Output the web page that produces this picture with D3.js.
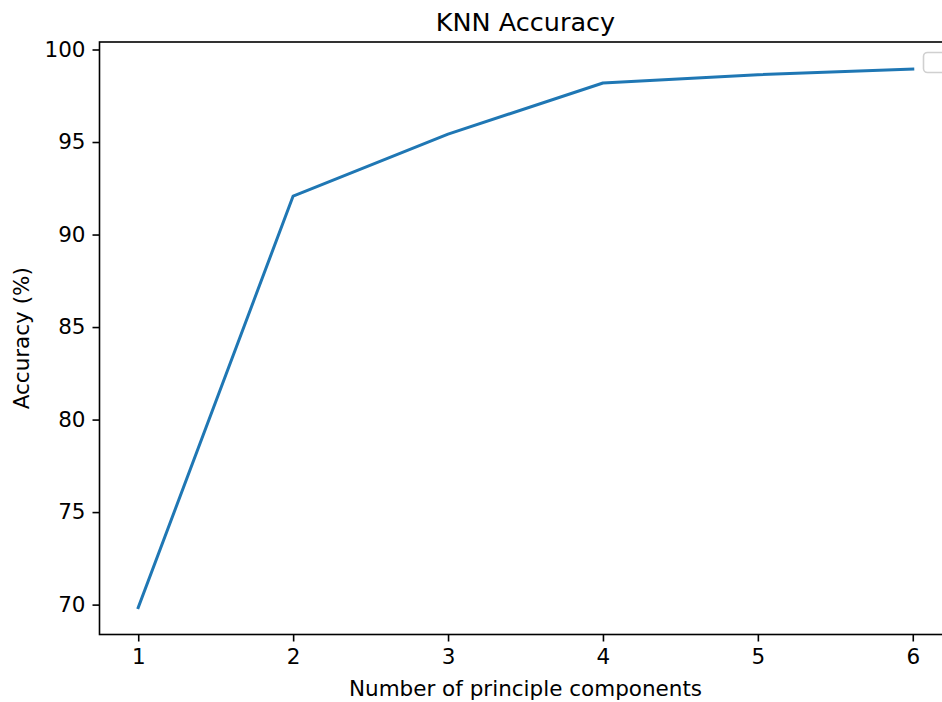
<!DOCTYPE html>
<html>
<head>
<meta charset="utf-8">
<script src="https://cdn.jsdelivr.net/npm/d3@7"></script>
<style>
  html, body { margin: 0; padding: 0; background: #fff; }
  svg { display: block; }
  text { font-family: "DejaVu Sans", sans-serif; fill: #000; }
</style>
</head>
<body>
<svg id="chart" width="942" height="702"></svg>
<script>
// Accuracy of KNN classifier vs. number of principal components kept
const components = [1, 2, 3, 4, 5, 6];
const accuracy = [69.84, 92.08, 95.43, 98.19, 98.64, 98.95];
const xTicks = [1, 2, 3, 4, 5, 6];
const yTicks = [70, 75, 80, 85, 90, 95, 100];

const svg = d3.select("#chart");
const plotLeft = 99.5, plotRight = 951.5, plotTop = 42, plotBottom = 634.5;

// 5% padding on each side of the data range
const xPad = (d3.max(components) - d3.min(components)) * 0.05;
const yPad = (d3.max(accuracy) - d3.min(accuracy)) * 0.05;
const x = d3.scaleLinear()
  .domain([d3.min(components) - xPad, d3.max(components) + xPad])
  .range([plotLeft, plotRight]);
const y = d3.scaleLinear()
  .domain([d3.min(accuracy) - yPad, d3.max(accuracy) + yPad])
  .range([plotBottom, plotTop]);

// Line
svg.append("path")
  .datum(components.map((c, i) => [c, accuracy[i]]))
  .attr("fill", "none")
  .attr("stroke", "#1f77b4")
  .attr("stroke-width", 3)
  .attr("stroke-linejoin", "round")
  .attr("stroke-linecap", "square")
  .attr("d", d3.line().x(d => x(d[0])).y(d => y(d[1])));

// Axes
const xAxis = d3.axisBottom(x).tickValues(xTicks).tickFormat(d3.format("d"))
  .tickSize(7).tickPadding(7).tickSizeOuter(0);
const yAxis = d3.axisLeft(y).tickValues(yTicks).tickFormat(d3.format("d"))
  .tickSize(7).tickPadding(7).tickSizeOuter(0);

const gx = svg.append("g").attr("transform", `translate(0,${plotBottom})`).call(xAxis);
const gy = svg.append("g").attr("transform", `translate(${plotLeft},0)`).call(yAxis);
[gx, gy].forEach(g => {
  g.select(".domain").remove();
  g.selectAll(".tick line").attr("stroke", "#000").attr("stroke-width", 1.6);
  g.selectAll(".tick text").attr("font-size", 21.5).attr("font-family", "DejaVu Sans, sans-serif").attr("fill", "#000");
});

// Spines
svg.append("rect")
  .attr("x", plotLeft).attr("y", plotTop)
  .attr("width", plotRight - plotLeft).attr("height", plotBottom - plotTop)
  .attr("fill", "none").attr("stroke", "#000").attr("stroke-width", 1.6);

// Empty legend frame
svg.append("rect")
  .attr("x", 923.5).attr("y", 52.5).attr("width", 24).attr("height", 20).attr("rx", 4)
  .attr("fill", "#fff").attr("stroke", "#d0d0d0").attr("stroke-width", 1.6);

// Title and axis labels
svg.append("text")
  .attr("x", (plotLeft + plotRight) / 2).attr("y", 30.5)
  .attr("text-anchor", "middle").attr("font-size", 25.5)
  .text("KNN Accuracy");

svg.append("text")
  .attr("x", (plotLeft + plotRight) / 2).attr("y", 696)
  .attr("text-anchor", "middle").attr("font-size", 21.5)
  .text("Number of principle components");

svg.append("text")
  .attr("transform", `translate(29,${(plotTop + plotBottom) / 2}) rotate(-90)`)
  .attr("text-anchor", "middle").attr("font-size", 21.5)
  .text("Accuracy (%)");
</script>
</body>
</html>
